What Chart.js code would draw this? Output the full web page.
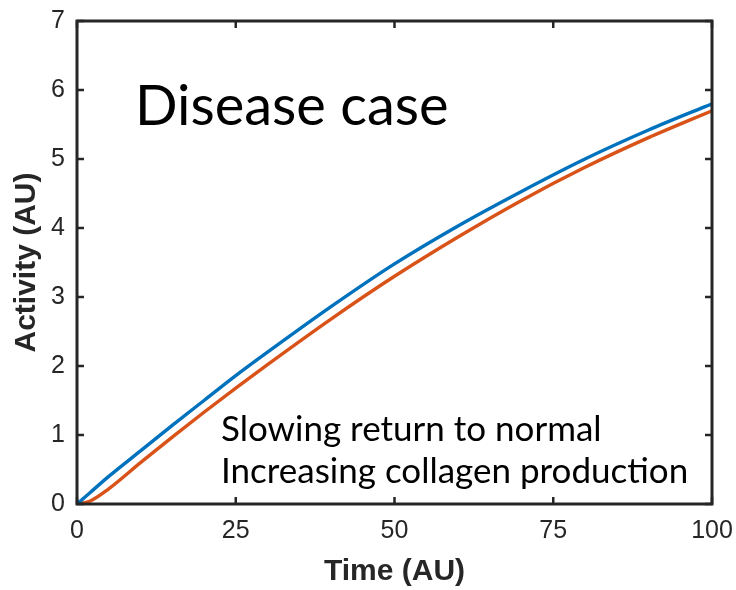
<!DOCTYPE html>
<html>
<head>
<meta charset="utf-8">
<script src="https://cdn.jsdelivr.net/npm/chart.js@4.4.1/dist/chart.umd.min.js"></script>
<style>
  html, body { margin: 0; padding: 0; background: #fff; }
  #wrap { width: 736px; height: 590px; }
</style>
</head>
<body>
<div id="wrap"><canvas id="myChart" width="736" height="590"></canvas></div>
<script>
// time points and activity read for each curve
const tiempo = [0, 2, 5, 10, 15, 20, 25, 30, 40, 50, 60, 70, 80, 90, 100]
const retornoNormal = [0, 0.16, 0.40, 0.77, 1.14, 1.50, 1.86, 2.20, 2.86, 3.48, 4.03, 4.53, 5.00, 5.42, 5.80]
const colageno = [0, 0.04, 0.22, 0.60, 0.97, 1.33, 1.68, 2.02, 2.68, 3.30, 3.87, 4.40, 4.88, 5.31, 5.70]

const ticksX = [0, 25, 50, 75, 100]
const ticksY = [0, 1, 2, 3, 4, 5, 6, 7]

const AZUL = '#0072BD'
const NARANJA = '#D95319'
const EJE = '#262626'

const puntos = (ys) => tiempo.map((t, i) => ({ x: t, y: ys[i] }))

// box around the plot with inward ticks on all four sides, plus the text notes
const marco = {
    id: 'marco',
    afterDraw(chart) {
        const ctx = chart.ctx
        const a = chart.chartArea
        const sx = chart.scales.x
        const sy = chart.scales.y
        const largo = 7
        ctx.save()
        ctx.strokeStyle = EJE
        ctx.lineWidth = 3
        ctx.strokeRect(a.left, a.top, a.right - a.left, a.bottom - a.top)
        ctx.lineWidth = 2.5
        ctx.beginPath()
        ticksX.forEach(v => {
            const px = sx.getPixelForValue(v)
            ctx.moveTo(px, a.bottom); ctx.lineTo(px, a.bottom - largo)
            ctx.moveTo(px, a.top); ctx.lineTo(px, a.top + largo)
        })
        ticksY.forEach(v => {
            const py = sy.getPixelForValue(v)
            ctx.moveTo(a.left, py); ctx.lineTo(a.left + largo, py)
            ctx.moveTo(a.right, py); ctx.lineTo(a.right - largo, py)
        })
        ctx.stroke()

        ctx.fillStyle = '#000'
        ctx.textBaseline = 'alphabetic'
        ctx.textAlign = 'left'
        ctx.font = '56px Lato'
        ctx.fillText('Disease case', 135, 125)
        ctx.font = '35px Lato'
        ctx.fillText('Slowing return to normal', 221, 441)
        ctx.fillText('Increasing collagen production', 221, 483)
        ctx.restore()
    }
}

var ctx = document.getElementById('myChart')
var myChart = new Chart(ctx, {
    type: 'line',
    data: {
        datasets: [{
            label: 'Retorno',
            data: puntos(retornoNormal),
            borderColor: AZUL,
            borderWidth: 3.4,
            pointRadius: 0,
            cubicInterpolationMode: 'monotone'
        }, {
            label: 'Colageno',
            data: puntos(colageno),
            borderColor: NARANJA,
            borderWidth: 3.4,
            pointRadius: 0,
            cubicInterpolationMode: 'monotone'
        }]
    },
    options: {
        responsive: false,
        animation: false,
        layout: { padding: { top: 21, right: 24, left: 0, bottom: 0 } },
        plugins: {
            legend: { display: false },
            tooltip: { enabled: false }
        },
        scales: {
            x: {
                type: 'linear',
                min: 0,
                max: 100,
                afterBuildTicks: (s) => { s.ticks = ticksX.map(v => ({ value: v })) },
                afterFit: (s) => {
                    s.height = 86
                    s.paddingLeft = 0
                    s.paddingRight = 0
                },
                grid: { display: false, drawTicks: false },
                border: { display: false },
                ticks: {
                    color: EJE,
                    font: { family: 'Liberation Sans', size: 25 },
                    padding: 12,
                    maxRotation: 0
                },
                title: {
                    display: true,
                    text: 'Time (AU)',
                    color: EJE,
                    font: { family: 'Liberation Sans', size: 30, weight: 'bold' },
                    padding: { top: 0, bottom: 0 }
                }
            },
            y: {
                min: 0,
                max: 7,
                afterBuildTicks: (s) => { s.ticks = ticksY.map(v => ({ value: v })) },
                afterFit: (s) => {
                    s.width = 77
                    s.paddingTop = 0
                    s.paddingBottom = 0
                },
                grid: { display: false, drawTicks: false },
                border: { display: false },
                ticks: {
                    color: EJE,
                    font: { family: 'Liberation Sans', size: 25 },
                    padding: 12
                },
                title: {
                    display: true,
                    text: 'Activity (AU)',
                    color: EJE,
                    font: { family: 'Liberation Sans', size: 30, weight: 'bold' },
                    padding: { top: 9, bottom: 0 }
                }
            }
        }
    },
    plugins: [marco]
})
</script>
</body>
</html>
